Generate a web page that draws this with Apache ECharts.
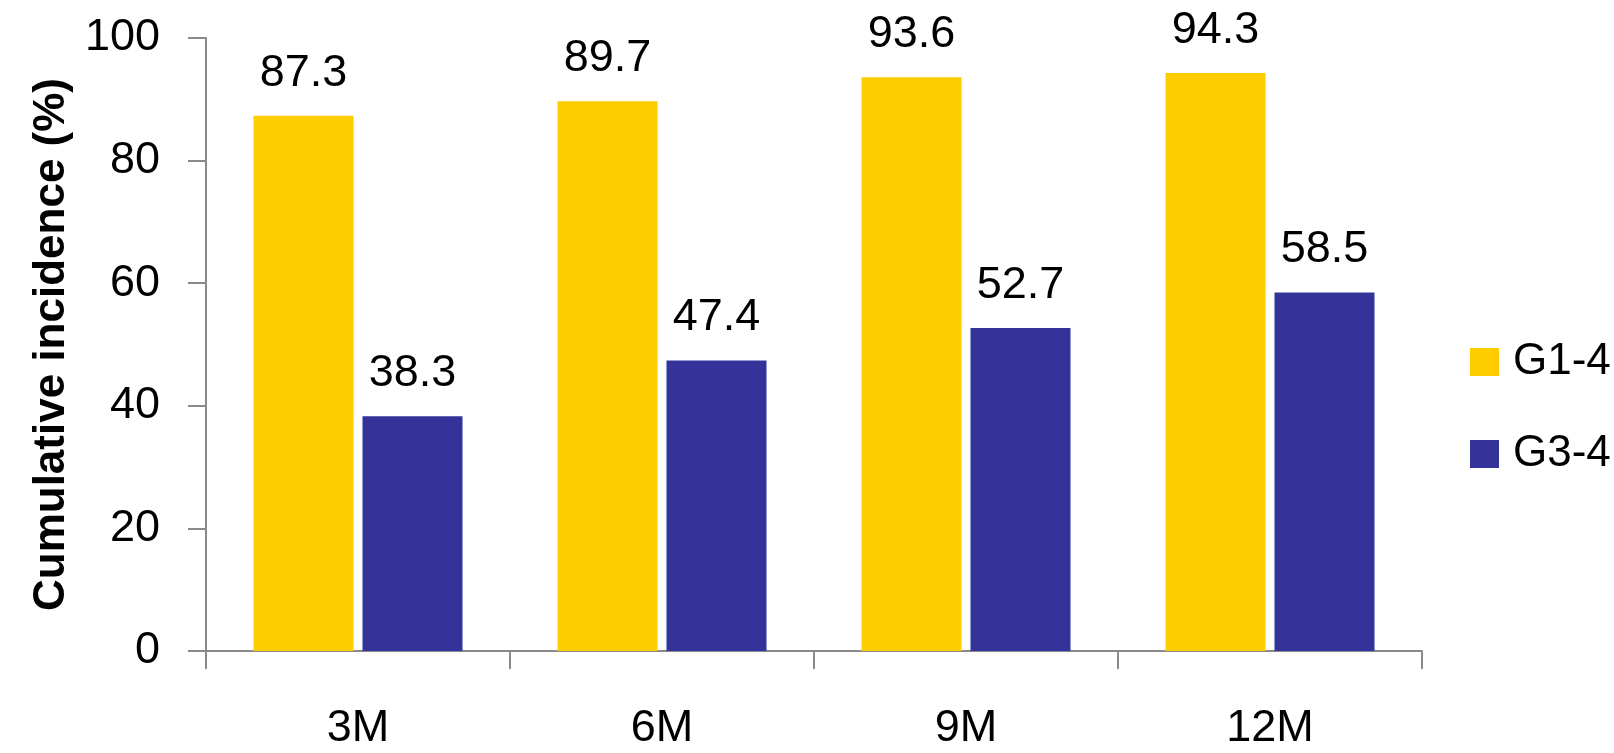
<!DOCTYPE html>
<html>
<head>
<meta charset="utf-8">
<script src="https://cdn.jsdelivr.net/npm/echarts@6/dist/echarts.min.js"></script>
<style>
html,body{margin:0;padding:0;background:#fff;}
#chart{width:1614px;height:753px;}
</style>
</head>
<body>
<div id="chart"></div>
<script>
var categories = ['3M', '6M', '9M', '12M'];
var g14 = [87.3, 89.7, 93.6, 94.3];
var g34 = [38.3, 47.4, 52.7, 58.5];
var seriesNames = ['G1-4', 'G3-4'];
var yTicks = [0, 20, 40, 60, 80, 100];

var FONT = '"Liberation Sans", Arial, sans-serif';
var axisColor = '#8a8a8a';

var chart = echarts.init(document.getElementById('chart'), null, {renderer: 'canvas'});
var labelStyle = {
  show: true, position: 'top', distance: 20,
  color: '#000', fontFamily: FONT, fontSize: 45, lineHeight: 45
};
chart.setOption({
  backgroundColor: '#fff',
  animation: false,
  grid: {left: 206, right: 192, top: 38, bottom: 102, containLabel: false},
  legend: {
    orient: 'vertical', left: 1470, top: 340, padding: 0,
    itemWidth: 29, itemHeight: 28, itemGap: 48,
    icon: 'rect',
    textStyle: {color: '#000', fontFamily: FONT, fontSize: 44, lineHeight: 28, padding: [0, 0, 0, 9]},
    data: seriesNames
  },
  xAxis: {
    type: 'category', data: categories, boundaryGap: true,
    axisLine: {show: true, lineStyle: {color: axisColor, width: 2}},
    axisTick: {show: true, length: 18, inside: false, lineStyle: {color: axisColor, width: 2}},
    axisLabel: {color: '#000', fontFamily: FONT, fontSize: 45, lineHeight: 45, margin: 55},
    splitLine: {show: false}
  },
  yAxis: {
    type: 'value', min: yTicks[0], max: yTicks[yTicks.length - 1], interval: 20,
    name: 'Cumulative incidence (%)',
    nameLocation: 'middle', nameRotate: 90, nameGap: 129,
    nameTextStyle: {color: '#000', fontFamily: FONT, fontWeight: 'bold', fontSize: 44, lineHeight: 44},
    axisLine: {show: true, lineStyle: {color: axisColor, width: 2}},
    axisTick: {show: true, length: 18, inside: false, lineStyle: {color: axisColor, width: 2}},
    axisLabel: {color: '#000', fontFamily: FONT, fontSize: 45, lineHeight: 45, margin: 46},
    splitLine: {show: false}
  },
  series: [
    {name: seriesNames[0], type: 'bar', data: g14, barWidth: 100, barGap: '9%',
     itemStyle: {color: '#FFCC00'}, label: labelStyle},
    {name: seriesNames[1], type: 'bar', data: g34, barWidth: 100, barGap: '9%',
     itemStyle: {color: '#333399'}, label: labelStyle}
  ]
});
</script>
</body>
</html>
